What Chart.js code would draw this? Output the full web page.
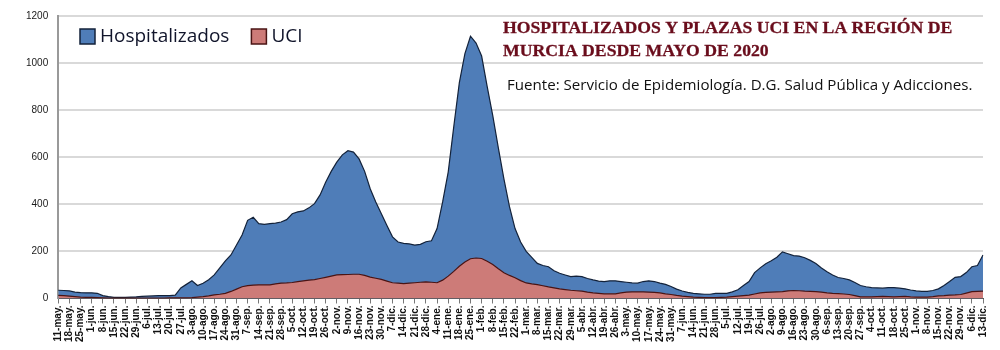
<!DOCTYPE html>
<html>
<head>
<meta charset="utf-8">
<script src="https://cdn.jsdelivr.net/npm/chart.js@4/dist/chart.umd.min.js"></script>
<style>
  body { margin: 0; background: #fff; }
</style>
</head>
<body>
<canvas id="chart" width="1000" height="350"></canvas>
<script>
// etiquetas semanales (lunes) desde mayo de 2020
const tickLabels = [
    '11-may.','18-may.','25-may.','1-jun.','8-jun.','15-jun.','22-jun.','29-jun.',
    '6-jul.','13-jul.','20-jul.','27-jul.','3-ago.','10-ago.','17-ago.','24-ago.','31-ago.',
    '7-sep.','14-sep.','21-sep.','28-sep.','5-oct.','12-oct.','19-oct.','26-oct.',
    '2-nov.','9-nov.','16-nov.','23-nov.','30-nov.','7-dic.','14-dic.','21-dic.','28-dic.',
    '4-ene.','11-ene.','18-ene.','25-ene.','1-feb.','8-feb.','15-feb.','22-feb.',
    '1-mar.','8-mar.','15-mar.','22-mar.','29-mar.','5-abr.','12-abr.','19-abr.','26-abr.',
    '3-may.','10-may.','17-may.','24-may.','31-may.','7-jun.','14-jun.','21-jun.','28-jun.',
    '5-jul.','12-jul.','19-jul.','26-jul.','2-ago.','9-ago.','16-ago.','23-ago.','30-ago.',
    '6-sep.','13-sep.','20-sep.','27-sep.','4-oct.','11-oct.','18-oct.','25-oct.',
    '1-nov.','8-nov.','15-nov.','22-nov.','29-nov.','6-dic.','13-dic.'
];

// dos lecturas por semana: el lunes y a mitad de semana (categoria sin etiqueta)
const categories = [];
tickLabels.forEach((l, i) => {
    categories.push(l);
    if (i < tickLabels.length - 1) categories.push('');
});

const hospitalizados = [
    35, 34, 32, 27, 25,                                   // may 2020
    24, 24, 22, 12, 8, 5, 5, 5, 6, 7, 9,                   // jun
    10, 11, 12, 12, 12, 14, 45, 60,                        // jul
    75, 55, 65, 80, 100, 130, 160, 185, 227, 270,          // ago
    332, 345, 318, 315, 318, 320, 325, 335,                // sep
    360, 368, 372, 385, 403, 440, 494, 540,                // oct
    579, 610, 628, 622, 593, 540, 466, 410, 360, 310,      // nov
    262, 240, 234, 232, 227, 230, 241, 245,                // dic
    297, 410, 537, 730, 917, 1040, 1114, 1085,             // ene 2021
    1030, 900, 777, 640, 508, 390, 297, 240,               // feb
    200, 175, 149, 140, 135, 118, 107, 100, 93, 95,        // mar
    93, 85, 79, 74, 72, 75, 75, 72,                        // abr
    69, 66, 65, 72, 75, 72, 65, 60, 51, 40,                // may
    32, 26, 22, 20, 18, 18, 22, 22,                        // jun
    22, 28, 37, 55, 72, 110, 130, 148,                     // jul
    160, 175, 198, 190, 182, 180, 173, 162, 149, 130,      // ago
    114, 100, 89, 85, 79, 68, 55, 50,                      // sep
    46, 45, 44, 46, 46, 44, 41, 36,                        // oct
    32, 30, 30, 34, 41, 55, 72, 90, 93, 110,               // nov
    135, 140, 185                                          // dic
];

const uci = [
    13, 12, 10, 8, 6,
    5, 5, 4, 3, 2, 2, 2, 2, 2, 2, 2,
    2, 2, 2, 2, 3, 3, 3, 3,
    4, 6, 8, 11, 15, 18, 22, 30, 40, 50,
    55, 57, 58, 58, 58, 62, 65, 66,
    68, 72, 75, 78, 80, 85, 90, 95,
    100, 101, 102, 103, 103, 98, 91, 86, 81, 74,
    67, 65, 63, 65, 67, 69, 71, 69,
    67, 78, 95, 115, 137, 155, 169, 172,
    170, 158, 144, 126, 109, 98, 88, 76,
    66, 62, 59, 54, 49, 45, 41, 38, 35, 33,
    31, 27, 24, 22, 20, 20, 20, 24,
    27, 28, 28, 28, 27, 26, 24, 20, 17, 13,
    10, 8, 6, 5, 4, 4, 4, 5,
    6, 8, 10, 12, 14, 19, 24, 26,
    27, 28, 29, 32, 34, 33, 31, 30, 29, 27,
    24, 22, 21, 19, 17, 12, 7, 7,
    7, 8, 9, 8, 7, 8, 9, 7,
    6, 6, 6, 8, 11, 12, 14, 15, 17, 23,
    29, 30, 31
];

const yTicks = [0, 200, 400, 600, 800, 1000, 1200];

const titleLines = ['HOSPITALIZADOS Y PLAZAS UCI EN LA REGIÓN DE', 'MURCIA DESDE MAYO DE 2020'];
const fuente = 'Fuente: Servicio de Epidemiología. D.G. Salud Pública y Adicciones.';

// leyenda y titulo dibujados dentro del area del grafico
const overlay = {
    id: 'overlay',
    afterDraw(chart) {
        const ctx = chart.ctx;
        ctx.save();

        // leyenda
        const items = [chart.data.datasets[1], chart.data.datasets[0]];
        let x = 80;
        ctx.font = '19px "Open Sans"';
        ctx.textBaseline = 'middle';
        items.forEach(ds => {
            ctx.fillStyle = ds.backgroundColor;
            ctx.strokeStyle = ds.borderColor;
            ctx.lineWidth = 1.5;
            ctx.fillRect(x, 29, 15, 15);
            ctx.strokeRect(x, 29, 15, 15);
            ctx.fillStyle = '#10142a';
            ctx.fillText(ds.label, x + 20, 37);
            x += 20 + ctx.measureText(ds.label).width + 22;
        });

        // titulo
        ctx.fillStyle = '#6a0d1c';
        ctx.strokeStyle = '#6a0d1c';
        ctx.lineWidth = 0.3;
        ctx.textBaseline = 'alphabetic';
        ctx.font = 'bold 19px "Liberation Serif"';
        const w0 = ctx.measureText(titleLines[0]).width;
        const size = 19 * 450 / w0;
        ctx.font = 'bold ' + size.toFixed(1) + 'px "Liberation Serif"';
        titleLines.forEach((t, i) => {
            ctx.fillText(t, 503, 33 + i * 23);
            ctx.strokeText(t, 503, 33 + i * 23);
        });

        // fuente
        ctx.fillStyle = '#111';
        ctx.font = '14px "Open Sans"';
        const w1 = ctx.measureText(fuente).width;
        ctx.font = (14 * 465 / w1).toFixed(1) + 'px "Open Sans"';
        ctx.textBaseline = 'middle';
        ctx.fillText(fuente, 507, 86);

        ctx.restore();
    }
};

new Chart(document.getElementById('chart'), {
    type: 'line',
    data: {
        labels: categories,
        datasets: [{
            label: 'UCI',
            data: uci,
            backgroundColor: '#cd7b78',
            borderColor: '#4a1414',
            borderWidth: 1.2,
            fill: 'origin',
            pointRadius: 0,
            tension: 0
        }, {
            label: 'Hospitalizados',
            data: hospitalizados,
            backgroundColor: '#4f7db8',
            borderColor: '#13223a',
            borderWidth: 1.2,
            fill: 'origin',
            pointRadius: 0,
            tension: 0
        }]
    },
    options: {
        responsive: false,
        animation: false,
        layout: {
            padding: { left: 16, right: 17, top: 7, bottom: 6 }
        },
        plugins: {
            legend: { display: false },
            tooltip: { enabled: false },
            filler: { drawTime: 'beforeDatasetDraw' }
        },
        scales: {
            x: {
                offset: false,
                grid: {
                    drawOnChartArea: false,
                    tickLength: 5,
                    tickColor: c => (c.index % 2 ? 'rgba(0,0,0,0)' : '#777')
                },
                border: { color: '#555', width: 1 },
                ticks: {
                    autoSkip: false,
                    maxRotation: 90,
                    minRotation: 90,
                    padding: 2,
                    color: '#111',
                    font: { family: 'Liberation Sans', size: 10, weight: 'bold' }
                }
            },
            y: {
                min: 0,
                max: 1200,
                afterBuildTicks: axis => { axis.ticks = yTicks.map(v => ({ value: v })); },
                grid: { color: '#d9d9d9', lineWidth: 2, drawTicks: false },
                border: { color: '#999', width: 2 },
                ticks: {
                    padding: 10,
                    color: '#1a1a1a',
                    font: { family: 'Liberation Sans', size: 10 },
                    callback: v => String(v)
                }
            }
        }
    },
    plugins: [overlay]
});
</script>
</body>
</html>
